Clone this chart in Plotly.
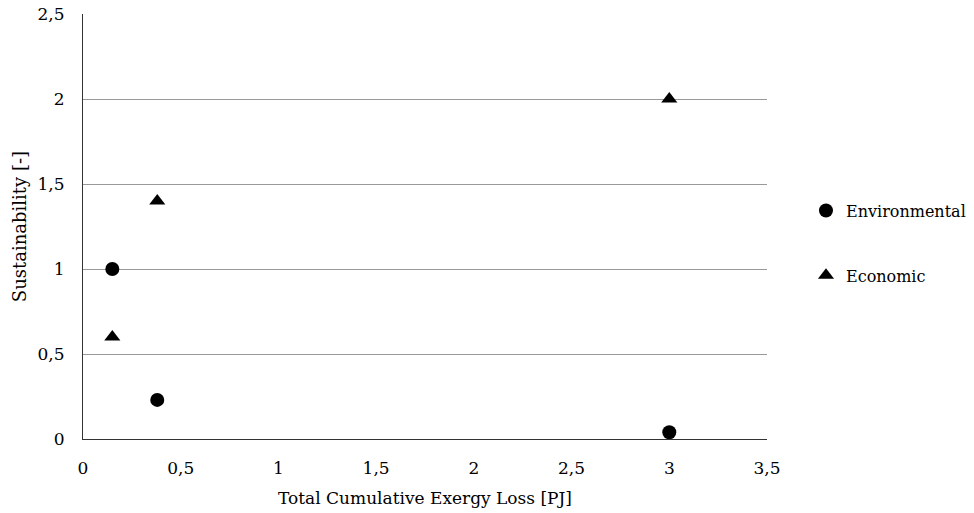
import plotly.graph_objects as go

env_x = [0.15, 0.38, 3.0]
env_y = [1.0, 0.23, 0.04]
eco_x = [0.15, 0.38, 3.0]
eco_y = [0.6, 1.4, 2.0]

x_ticks = [0, 0.5, 1, 1.5, 2, 2.5, 3, 3.5]
x_labels = ["0", "0,5", "1", "1,5", "2", "2,5", "3", "3,5"]
y_ticks = [0, 0.5, 1, 1.5, 2, 2.5]
y_labels = ["0", "0,5", "1", "1,5", "2", "2,5"]

FONT = "DejaVu Serif"

fig = go.Figure()
fig.add_trace(go.Scatter(x=env_x, y=env_y, mode="markers", name="Environmental",
                         legendgroup="a",
                         marker=dict(symbol="circle", size=14, color="black")))
fig.add_trace(go.Scatter(x=eco_x, y=eco_y, mode="markers", name="Economic",
                         legendgroup="b",
                         marker=dict(symbol="triangle-up", size=14, color="black")))

fig.update_layout(
    width=974, height=513,
    margin=dict(l=83, r=207, t=14, b=74, autoexpand=False),
    paper_bgcolor="white", plot_bgcolor="white",
    font=dict(family=FONT, size=17, color="black"),
    legend=dict(x=1.057, y=0.461, xanchor="left", yanchor="middle",
                tracegroupgap=41, font=dict(size=16, family=FONT),
                bgcolor="rgba(0,0,0,0)"),
    xaxis=dict(range=[0, 3.5], tickvals=x_ticks, ticktext=x_labels,
               showgrid=False, zeroline=False, showline=True,
               linecolor="#333333", linewidth=1, ticks="",
               ticklabelstandoff=14, automargin=False,
               title=dict(text="Total Cumulative Exergy Loss [PJ]", standoff=14,
                          font=dict(size=17)),
               tickfont=dict(size=17)),
    yaxis=dict(range=[0, 2.5], tickvals=y_ticks, ticktext=y_labels,
               showgrid=True, gridcolor="#999999", gridwidth=1,
               zeroline=False, showline=True, linecolor="#333333", linewidth=1,
               ticks="", ticklabelstandoff=14, automargin=False,
               title=dict(text="Sustainability [-]", standoff=6,
                          font=dict(size=18)),
               tickfont=dict(size=17)),
)

fig.write_html("out.html")
